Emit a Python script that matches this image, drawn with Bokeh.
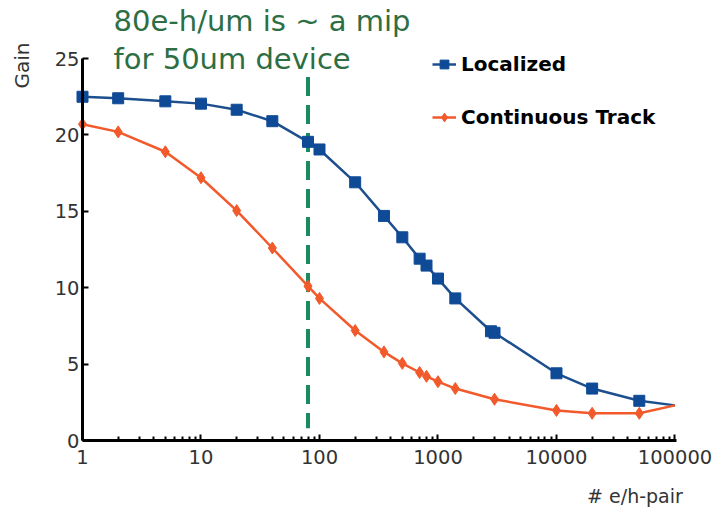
from bokeh.plotting import figure
from bokeh.models import (Range1d, FixedTicker, Label, Legend, LegendItem)
from bokeh.embed import file_html
from bokeh.resources import INLINE

# Number of e/h pairs and the resulting gain for the two charge deposits
localized_pairs = [1, 2, 5, 10, 20, 40, 80, 100, 200, 350, 500, 700, 800, 1000,
                   1400, 2800, 3000, 10000, 20000, 50000, 100000]
localized_gain = [22.5, 22.4, 22.2, 22.05, 21.65, 20.9, 19.55, 19.05, 16.9, 14.7,
                  13.3, 11.9, 11.45, 10.6, 9.3, 7.15, 7.05, 4.4, 3.4, 2.6, 2.3]

track_pairs = [1, 2, 5, 10, 20, 40, 80, 100, 200, 350, 500, 700, 800, 1000,
               1400, 3000, 10000, 20000, 50000, 100000]
track_gain = [20.7, 20.2, 18.9, 17.2, 15.05, 12.6, 10.1, 9.3, 7.2, 5.8, 5.05,
              4.45, 4.2, 3.85, 3.4, 2.7, 1.97, 1.78, 1.78, 2.3]

mip_pairs = 80  # 80 e-h per um, the reference line

x_ticks = [1, 10, 100, 1000, 10000, 100000]
x_tick_labels = ["1", "10", "100", "1000", "10000", "100000"]
y_ticks = [0, 5, 10, 15, 20, 25]

FONT = "DejaVu Sans"
BLUE = "#1d4f8e"
BLUE_MK = "#0f4a96"
ORANGE = "#f2592b"
GREEN_TXT = "#2d6e45"
GREEN_DASH = "#1b8a60"
GRAY_TXT = "#333333"

# the frame spans the whole page; axes sit at x=1 and y=0 inside it
p = figure(width=715, height=507, x_axis_type="log",
           x_range=Range1d(0.2032, 219800), y_range=Range1d(-4.385, 28.80),
           output_backend="svg", toolbar_location=None,
           min_border=0)
p.outline_line_color = None
p.grid.visible = False
p.background_fill_color = "white"
p.border_fill_color = "white"

minor = [m * d for d in x_ticks[:-1] for m in range(2, 10)]
p.xaxis.ticker = FixedTicker(ticks=x_ticks, minor_ticks=minor)
p.xaxis.major_label_overrides = {t: s for t, s in zip(x_ticks, x_tick_labels)}
p.yaxis.ticker = FixedTicker(ticks=y_ticks)
p.xaxis.fixed_location = 0
p.yaxis.fixed_location = 1
p.xaxis.bounds = (1, 103000)
p.yaxis.bounds = (0, 25)

for ax in (p.xaxis, p.yaxis):
    ax.axis_line_width = 3
    ax.axis_line_color = "black"
    ax.major_tick_in = 6
    ax.major_tick_out = 0
    ax.major_tick_line_width = 2
    ax.major_tick_line_color = "black"
    ax.minor_tick_in = 4
    ax.minor_tick_out = 0
    ax.minor_tick_line_width = 2
    ax.minor_tick_line_color = "black"
    ax.major_label_text_font = FONT
    ax.major_label_text_font_size = "19.5px"
    ax.major_label_text_color = GRAY_TXT
p.yaxis.minor_tick_line_color = None
p.xaxis.major_label_standoff = 9
p.yaxis.major_label_standoff = 3

# dashed marker of the mip charge
p.segment(x0=mip_pairs, y0=23.8, x1=mip_pairs, y1=0.8,
          line_color=GREEN_DASH, line_width=4, line_dash="19 9")

l1 = p.line(localized_pairs, localized_gain, line_color=BLUE, line_width=2.5)
m1 = p.scatter(localized_pairs[:-1], localized_gain[:-1], marker="square",
               size=11, fill_color=BLUE_MK, line_color=BLUE_MK)
l2 = p.line(track_pairs, track_gain, line_color=ORANGE, line_width=2.5)
m2 = p.scatter(track_pairs[:-1], track_gain[:-1], marker="diamond",
               size=12, fill_color=ORANGE, line_color=ORANGE)

legend = Legend(items=[LegendItem(label="Localized", renderers=[l1, m1]),
                       LegendItem(label="Continuous Track", renderers=[l2, m2])],
                location=(432, 378))
legend.label_text_font = FONT
legend.label_text_font_style = "bold"
legend.label_text_font_size = "20px"
legend.label_text_color = "black"
legend.glyph_width = 24
legend.glyph_height = 22
legend.label_height = 22
legend.label_standoff = 5
legend.spacing = 29
legend.padding = 0
legend.margin = 0
legend.border_line_color = None
legend.background_fill_alpha = 0
p.add_layout(legend)

for txt, yy in (("80e-h/um is ~ a mip", 27.48), ("for 50um device", 25.0)):
    p.add_layout(Label(x=1.83, y=yy, text=txt, text_font=FONT,
                       text_font_size="29px", text_color=GREEN_TXT,
                       text_baseline="alphabetic", text_align="left"))

p.add_layout(Label(x=0.306, y=24.54, text="Gain", angle=1.5708,
                   text_font=FONT, text_font_size="20px", text_color=GRAY_TXT,
                   text_align="center", text_baseline="middle"))
p.add_layout(Label(x=45960, y=-3.6, text="# e/h-pair",
                   text_font=FONT, text_font_size="19px", text_color=GRAY_TXT,
                   text_align="center", text_baseline="middle"))

open("out.html", "w").write(file_html(p, INLINE))
